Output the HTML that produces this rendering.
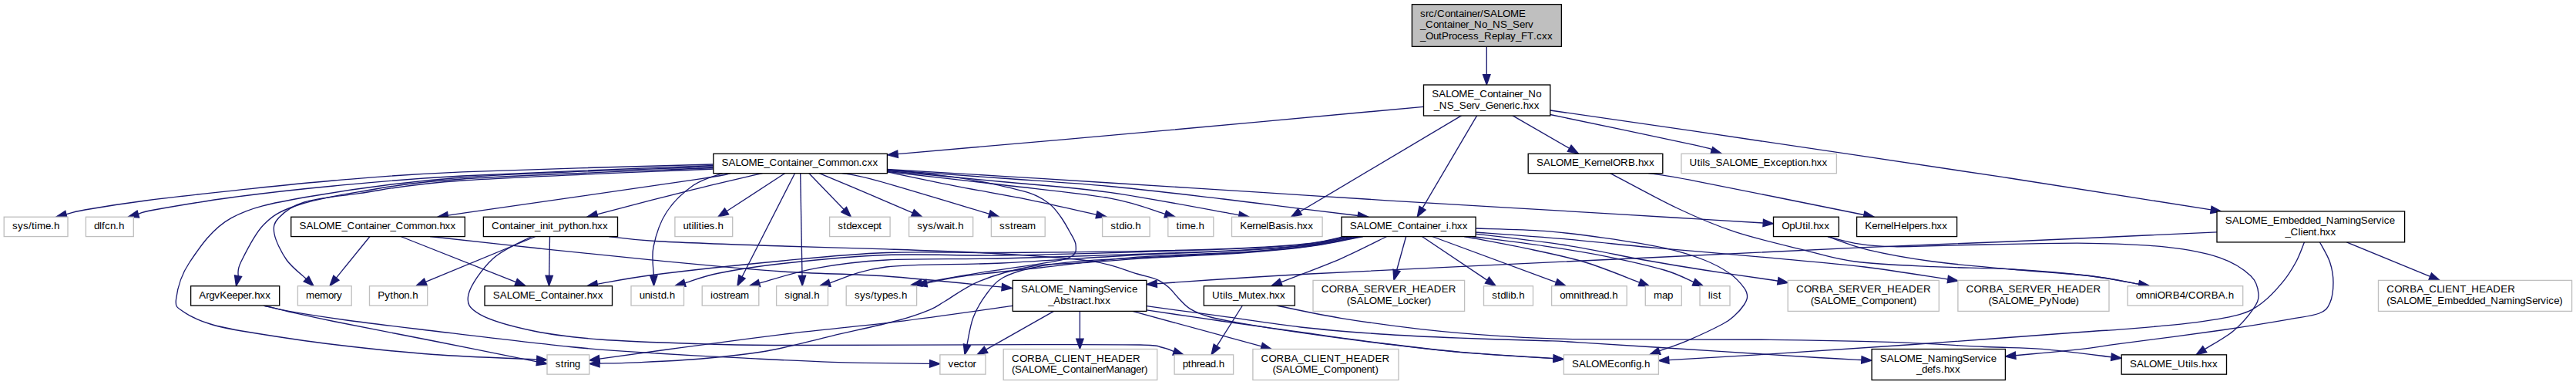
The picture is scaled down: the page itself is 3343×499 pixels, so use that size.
<!DOCTYPE html><html><head><meta charset="utf-8"><title>Include dependency graph</title>
<style>html,body{margin:0;padding:0;background:#fff}svg{display:block}text{font-family:"Liberation Sans",sans-serif;font-size:13.33px;fill:#000}
.e path{fill:none;stroke:#191970;stroke-width:1.33}.e polygon{fill:#191970;stroke:#191970;stroke-width:1.33}</style></head><body>
<svg width="3343" height="499" viewBox="0 0 3343 499">
<rect width="3343" height="499" fill="white"/>
<g class="e">
<path d="M1929.3,60.3 L1929.3,96.7"/><polygon points="1924.6,96.7 1929.3,110.0 1934.0,96.7"/>
<path d="M1847.5,138.3 C1789.6,143.6 1613.7,160.0 1500.0,170.2 C1386.3,180.4 1220.9,194.7 1165.0,199.6"/><polygon points="1164.6,195.0 1151.8,200.8 1165.5,204.3"/>
<path d="M1897.0,149.6 L1687.0,274.3"/><polygon points="1684.7,270.3 1675.6,281.1 1689.4,278.3"/>
<path d="M1916.8,149.6 L1846.1,269.6"/><polygon points="1842.0,267.3 1839.3,281.1 1850.1,272.0"/>
<path d="M1962.6,149.6 L2036.8,192.3"/><polygon points="2034.4,196.3 2048.3,198.9 2039.1,188.2"/>
<path d="M2011.8,148.5 C2043.2,155.1 2165.1,180.5 2200.0,188.2 C2234.9,195.9 2217.8,193.8 2221.3,194.9"/><polygon points="2219.9,199.4 2234.0,198.9 2222.7,190.5"/>
<path d="M2011.8,143.0 C2043.2,147.5 2102.0,155.8 2200.0,170.2 C2298.0,184.6 2488.4,212.8 2600.0,229.7 C2711.6,246.6 2824.5,264.8 2869.4,271.8"/><polygon points="2868.6,276.5 2882.5,273.9 2870.1,267.2"/>
<path d="M2138.3,224.3 C2148.6,226.0 2153.2,225.6 2200.0,234.6 C2246.8,243.6 2382.5,271.2 2419.0,278.5"/><polygon points="2418.0,283.1 2432.0,281.1 2419.9,273.9"/>
<path d="M2089.2,224.3 C2103.8,231.9 2150.0,257.3 2177.0,270.0 C2204.0,282.7 2224.1,291.4 2251.3,300.4 C2278.5,309.4 2314.0,317.4 2340.0,323.8 C2366.0,330.2 2379.4,335.4 2407.5,339.0 C2435.6,342.6 2475.1,344.0 2508.8,345.7 C2542.6,347.4 2576.2,347.0 2610.0,349.0 C2643.8,351.0 2683.8,354.3 2711.4,357.5 C2739.0,360.7 2765.1,366.5 2775.9,368.3"/><polygon points="2775.1,372.9 2789.0,370.5 2776.7,363.7"/>
<path d="M925.8,213.0 C871.5,214.6 682.1,219.3 600.0,222.8 C517.9,226.3 483.0,229.9 433.0,234.0 C383.0,238.1 340.7,243.0 300.0,247.3 C259.3,251.6 220.7,255.9 189.0,260.0 C157.3,264.1 127.2,269.0 110.0,272.0 C92.8,275.0 89.9,276.9 85.9,277.9"/><polygon points="84.8,273.3 73.0,281.0 87.0,282.4"/>
<path d="M925.8,214.5 C871.5,216.8 682.1,223.6 600.0,228.0 C517.9,232.4 483.0,236.3 433.0,241.0 C383.0,245.7 338.8,250.8 300.0,256.0 C261.2,261.2 220.1,268.4 200.0,272.0 C179.9,275.6 182.8,276.6 179.3,277.5"/><polygon points="178.1,273.0 166.5,281.0 180.6,282.1"/>
<path d="M925.8,216.0 C871.5,218.3 687.6,223.5 600.0,230.0 C512.4,236.5 450.0,246.2 400.0,255.0 C350.0,263.8 325.7,268.4 300.0,282.6 C274.3,296.8 257.9,322.4 246.0,340.0 C234.1,357.6 229.8,377.3 228.5,388.0 C227.2,398.7 230.6,398.7 238.0,404.0 C245.4,409.3 259.3,415.7 273.0,420.0 C286.7,424.3 293.3,425.6 320.0,430.0 C346.7,434.4 392.5,441.6 433.0,446.5 C473.5,451.4 519.0,456.3 563.0,459.5 C607.0,462.7 674.4,464.8 696.7,465.9"/><polygon points="696.5,470.5 710.0,466.5 696.9,461.2"/>
<path d="M925.8,217.5 C871.5,219.9 676.6,226.8 600.0,232.0 C523.4,237.2 502.2,242.8 466.0,248.6 C429.8,254.4 403.8,259.8 383.0,267.0 C362.2,274.2 353.2,279.8 341.5,292.0 C329.8,304.2 317.9,329.1 312.5,340.0 C307.1,350.9 309.6,354.7 309.1,357.6"/><polygon points="304.5,356.8 306.5,370.7 313.6,358.5"/>
<path d="M925.8,219.0 C871.5,221.5 676.6,228.7 600.0,234.0 C523.4,239.3 500.2,245.9 466.0,250.6 C431.8,255.3 412.3,256.8 395.0,262.0 C377.7,267.2 368.5,275.2 362.0,282.0 C355.5,288.8 354.3,293.8 356.0,303.0 C357.7,312.2 365.1,327.3 372.0,337.0 C378.9,346.7 393.2,357.4 397.4,361.5"/><polygon points="394.2,364.8 407.0,370.7 400.7,358.1"/>
<path d="M948.6,224.3 C940.5,225.8 958.1,224.5 900.0,233.2 C841.9,241.9 653.1,268.7 600.0,276.4 C546.9,284.1 584.3,278.7 581.2,279.2"/><polygon points="580.5,274.5 568.0,281.1 581.8,283.8"/>
<path d="M990.0,224.3 C975.0,227.9 935.9,236.7 900.0,245.6 C864.1,254.5 795.7,272.4 774.9,277.8"/><polygon points="773.7,273.3 762.0,281.1 776.0,282.3"/>
<path d="M938.0,224.3 C931.7,226.9 912.2,231.6 900.0,240.0 C887.8,248.4 873.7,261.7 865.0,275.0 C856.3,288.3 850.8,306.3 848.0,320.0 C845.2,333.7 848.3,351.0 848.4,357.2"/><polygon points="843.7,357.2 848.5,370.5 853.0,357.2"/>
<path d="M1019.2,224.3 L943.0,273.8"/><polygon points="940.5,269.9 931.9,281.1 945.6,277.8"/>
<path d="M1031.7,224.3 L963.0,358.7"/><polygon points="958.8,356.5 956.9,370.5 967.1,360.8"/>
<path d="M1038.7,224.3 L1041.0,357.2"/><polygon points="1036.3,357.3 1041.2,370.5 1045.6,357.1"/>
<path d="M1049.5,224.3 L1095.2,271.5"/><polygon points="1091.8,274.8 1104.4,281.1 1098.5,268.3"/>
<path d="M1062.8,224.3 C1075.7,229.7 1119.7,248.2 1140.0,256.8 C1160.3,265.4 1177.1,272.7 1184.5,275.9"/><polygon points="1182.6,280.2 1196.7,281.1 1186.3,271.6"/>
<path d="M1092.0,224.3 C1100.0,226.0 1108.0,225.8 1140.0,234.6 C1172.0,243.4 1260.0,270.2 1283.9,277.3"/><polygon points="1282.6,281.8 1296.7,281.1 1285.3,272.8"/>
<path d="M1151.4,219.8 C1166.0,221.5 1215.9,226.6 1238.7,229.7 C1261.5,232.8 1271.5,234.8 1288.0,238.3 C1304.5,241.8 1325.1,246.3 1337.4,250.6 C1349.7,254.9 1355.4,259.1 1362.0,264.2 C1368.6,269.3 1372.6,275.5 1376.9,281.5 C1381.2,287.5 1384.8,294.1 1388.0,300.0 C1391.2,305.9 1395.5,311.7 1396.0,317.0 C1396.5,322.3 1397.5,328.1 1391.0,332.0 C1384.5,335.9 1377.0,337.1 1357.0,340.7 C1337.0,344.3 1297.8,349.3 1271.0,353.6 C1244.2,357.9 1208.6,364.5 1196.1,366.7"/><polygon points="1195.3,362.1 1183.0,369.0 1196.9,371.3"/>
<path d="M1151.4,222.8 C1166.0,225.8 1207.7,234.7 1238.7,240.8 C1269.7,246.9 1306.7,253.1 1337.4,259.3 C1368.1,265.5 1408.7,275.1 1423.0,278.2"/><polygon points="1422.0,282.8 1436.0,281.1 1424.0,273.7"/>
<path d="M1151.4,222.5 C1176.2,225.3 1251.9,233.8 1300.0,239.5 C1348.1,245.2 1404.6,250.5 1440.0,256.8 C1475.4,263.1 1500.2,274.0 1512.2,277.4"/><polygon points="1510.9,281.9 1525.0,281.1 1513.5,273.0"/>
<path d="M1151.4,221.5 C1176.2,223.8 1251.9,230.8 1300.0,235.5 C1348.1,240.2 1388.7,242.2 1440.0,249.4 C1491.3,256.6 1579.9,273.9 1607.9,278.8"/><polygon points="1607.1,283.4 1621.0,281.1 1608.7,274.2"/>
<path d="M1151.4,220.5 C1176.2,222.2 1251.9,227.5 1300.0,231.0 C1348.1,234.5 1392.0,237.0 1440.0,241.5 C1488.0,246.0 1546.9,253.2 1588.0,258.0 C1629.1,262.8 1657.7,266.8 1686.7,270.4 C1715.7,274.0 1749.7,278.0 1762.3,279.5"/><polygon points="1761.7,284.1 1775.5,281.1 1762.9,274.9"/>
<path d="M1151.4,219.5 C1176.2,221.0 1251.9,225.4 1300.0,228.3 C1348.1,231.2 1383.8,233.5 1440.0,237.0 C1496.2,240.5 1577.4,245.6 1637.4,249.4 C1697.4,253.2 1722.9,255.1 1800.0,259.8 C1877.1,264.5 2033.3,273.6 2100.0,277.6 C2166.7,281.6 2168.6,281.8 2200.0,283.7 C2231.4,285.6 2273.5,288.1 2288.2,289.0"/><polygon points="2287.9,293.7 2301.5,289.8 2288.5,284.3"/>
<path d="M480.0,306.5 L436.4,360.2"/><polygon points="432.8,357.2 428.0,370.5 440.0,363.1"/>
<path d="M520.0,306.5 L669.6,365.6"/><polygon points="667.9,370.0 682.0,370.5 671.3,361.3"/>
<path d="M558.0,306.5 C581.7,309.1 651.3,316.9 700.0,322.0 C748.7,327.1 797.3,332.4 850.0,337.4 C902.7,342.4 966.0,348.6 1016.0,352.0 C1066.0,355.4 1102.6,354.6 1150.0,358.0 C1197.4,361.4 1275.2,369.9 1300.3,372.2"/><polygon points="1299.8,376.9 1313.5,373.5 1300.7,367.6"/>
<path d="M695.0,306.5 L552.3,365.4"/><polygon points="550.5,361.1 540.0,370.5 554.1,369.7"/>
<path d="M713.5,306.5 L712.7,357.2"/><polygon points="708.0,357.1 712.5,370.5 717.4,357.3"/>
<path d="M690.0,306.5 C681.7,311.2 653.7,322.5 640.0,335.0 C626.3,347.5 610.8,369.5 608.0,381.6 C605.2,393.7 608.9,399.7 623.0,407.6 C637.1,415.5 666.6,423.6 692.6,429.0 C718.6,434.4 742.9,437.2 779.0,440.0 C815.1,442.8 868.3,444.4 909.0,445.7 C949.7,446.9 951.2,447.4 1023.0,447.5 C1094.8,447.6 1263.8,446.7 1340.0,446.6 C1416.2,446.5 1452.2,446.4 1480.0,447.0 C1507.8,447.6 1499.8,448.6 1507.0,450.0 C1514.2,451.4 1520.7,454.6 1523.4,455.5"/><polygon points="1521.9,460.0 1536.0,459.8 1524.9,451.1"/>
<path d="M790.0,306.5 C800.0,307.5 815.0,310.5 850.0,312.5 C885.0,314.5 950.0,316.8 1000.0,318.5 C1050.0,320.2 1100.0,321.1 1150.0,322.9 C1200.0,324.6 1255.5,326.4 1300.0,329.0 C1344.5,331.6 1387.7,334.3 1417.0,338.6 C1446.3,342.9 1461.7,351.0 1476.0,355.0 C1490.3,359.0 1495.6,359.7 1502.6,362.8 C1509.6,365.9 1513.6,369.8 1518.0,373.7 C1522.4,377.6 1524.5,381.5 1529.0,386.0 C1533.5,390.5 1538.0,396.4 1545.0,400.6 C1552.0,404.8 1560.2,408.0 1571.0,411.0 C1581.8,414.0 1590.5,415.4 1610.0,418.8 C1629.5,422.2 1657.5,426.8 1687.8,431.2 C1718.1,435.6 1757.1,440.8 1791.7,445.0 C1826.3,449.2 1858.2,453.3 1895.6,456.6 C1933.0,459.9 1996.0,463.3 2016.1,464.6"/><polygon points="2015.8,469.3 2029.4,465.5 2016.4,460.0"/>
<path d="M342.0,396.0 C347.5,397.3 359.8,400.6 375.0,404.0 C390.2,407.4 401.7,410.2 433.0,416.5 C464.3,422.8 519.0,433.3 563.0,442.0 C607.0,450.7 674.6,464.4 697.0,468.9"/><polygon points="696.0,473.5 710.0,471.5 697.9,464.3"/>
<path d="M342.0,396.0 C347.5,397.2 357.0,400.2 375.0,403.4 C393.0,406.6 418.7,410.7 450.0,415.0 C481.3,419.3 514.7,423.2 563.0,429.0 C611.3,434.8 691.7,444.7 740.0,449.5 C788.3,454.3 815.2,455.6 853.0,458.0 C890.8,460.4 928.7,462.3 966.5,464.2 C1004.3,466.1 1039.7,468.1 1079.7,469.3 C1119.7,470.5 1185.5,471.0 1206.6,471.3"/><polygon points="1206.5,476.0 1219.9,471.5 1206.7,466.6"/>
<path d="M1745.0,306.5 C1737.5,308.0 1721.5,312.8 1700.0,315.3 C1678.5,317.8 1653.3,319.6 1616.0,321.3 C1578.7,323.0 1528.7,324.6 1476.0,325.6 C1423.3,326.6 1354.3,327.2 1300.0,327.5 C1245.7,327.8 1197.3,325.8 1150.0,327.5 C1102.7,329.2 1066.0,333.2 1016.0,338.0 C966.0,342.8 890.1,350.9 850.0,356.0 C809.9,361.1 787.6,366.3 775.1,368.3"/><polygon points="774.4,363.7 762.0,370.5 775.9,372.9"/>
<path d="M1748.0,306.5 C1740.0,308.1 1722.0,313.2 1700.0,315.8 C1678.0,318.4 1653.3,320.1 1616.0,321.9 C1578.7,323.7 1528.7,325.1 1476.0,326.6 C1423.3,328.1 1354.3,330.4 1300.0,331.0 C1245.7,331.6 1197.3,328.8 1150.0,330.5 C1102.7,332.2 1052.2,337.6 1016.0,341.5 C979.8,345.4 954.2,349.8 933.0,354.0 C911.8,358.2 896.1,364.7 888.8,366.8"/><polygon points="887.5,362.3 876.0,370.5 890.1,371.3"/>
<path d="M1754.0,306.5 C1745.0,308.2 1723.0,313.9 1700.0,316.8 C1677.0,319.7 1653.3,321.7 1616.0,323.8 C1578.7,325.9 1528.7,327.4 1476.0,329.3 C1423.3,331.2 1354.3,333.7 1300.0,335.0 C1245.7,336.3 1190.4,334.9 1150.0,337.0 C1109.6,339.1 1085.2,342.8 1057.8,347.8 C1030.4,352.8 997.5,363.9 985.5,367.1"/><polygon points="984.2,362.6 972.6,370.5 986.7,371.6"/>
<path d="M1757.0,306.5 C1747.5,308.3 1723.5,314.3 1700.0,317.3 C1676.5,320.3 1653.3,322.2 1616.0,324.4 C1578.7,326.6 1528.7,327.7 1476.0,330.5 C1423.3,333.3 1354.3,338.4 1300.0,341.0 C1245.7,343.6 1187.2,341.7 1150.0,346.0 C1112.8,350.3 1089.0,363.4 1076.8,366.9"/><polygon points="1075.5,362.4 1064.0,370.5 1078.1,371.3"/>
<path d="M1763.0,306.5 C1752.5,308.5 1724.5,315.0 1700.0,318.3 C1675.5,321.6 1653.3,323.8 1616.0,326.3 C1578.7,328.8 1520.3,329.8 1476.0,333.2 C1431.7,336.6 1387.7,342.9 1350.0,347.0 C1312.3,351.1 1274.6,354.7 1250.0,358.0 C1225.4,361.3 1210.6,365.5 1202.7,367.0"/><polygon points="1201.8,362.4 1189.6,369.5 1203.5,371.6"/>
<path d="M1769.0,306.5 C1757.5,308.6 1725.5,315.8 1700.0,319.3 C1674.5,322.8 1653.3,324.8 1616.0,327.5 C1578.7,330.2 1512.0,333.1 1476.0,335.3 C1440.0,337.6 1422.7,339.4 1400.0,341.0 C1377.3,342.6 1361.4,341.1 1340.0,345.0 C1318.6,348.9 1290.2,356.8 1271.4,364.3 C1252.6,371.8 1237.7,383.8 1227.0,390.0 C1216.3,396.2 1217.4,397.1 1207.0,401.3 C1196.6,405.6 1185.9,409.8 1164.7,415.5 C1143.5,421.2 1108.0,428.7 1079.7,435.3 C1051.4,441.9 1023.1,450.1 994.8,455.0 C966.5,459.9 938.3,462.5 910.0,465.0 C881.7,467.5 847.0,468.8 825.0,469.8 C803.0,470.8 785.8,470.9 778.0,471.1"/><polygon points="777.9,466.5 764.7,471.5 778.1,475.8"/>
<path d="M1766.0,306.5 C1755.0,308.6 1725.0,315.4 1700.0,318.8 C1675.0,322.2 1653.3,324.3 1616.0,326.9 C1578.7,329.5 1512.0,332.2 1476.0,334.2 C1440.0,336.1 1422.7,336.5 1400.0,338.6 C1377.3,340.7 1356.4,343.4 1340.0,347.0 C1323.6,350.6 1311.4,354.3 1301.4,360.0 C1291.4,365.7 1286.4,372.8 1280.0,381.4 C1273.6,390.0 1267.2,400.5 1263.0,411.4 C1258.8,422.3 1256.3,440.9 1254.9,446.8"/><polygon points="1250.4,445.8 1252.0,459.8 1259.5,447.9"/>
<path d="M1799.7,306.5 C1789.8,311.3 1762.9,325.4 1740.0,335.3 C1717.1,345.2 1675.3,360.6 1662.4,365.7"/><polygon points="1660.7,361.3 1650.0,370.5 1664.1,370.0"/>
<path d="M1824.7,306.5 L1812.5,350.5"/><polygon points="1808.0,349.2 1808.9,363.3 1817.0,351.7"/>
<path d="M1845.4,306.5 L1929.9,363.1"/><polygon points="1927.4,367.0 1941.0,370.5 1932.5,359.2"/>
<path d="M1858.6,306.5 L2019.5,365.9"/><polygon points="2017.9,370.3 2032.0,370.5 2021.1,361.5"/>
<path d="M1900.0,306.5 C1913.0,309.0 1951.9,315.9 1977.9,321.4 C2003.9,326.9 2030.8,332.1 2055.8,339.5 C2080.8,346.9 2115.8,361.7 2127.8,366.1"/><polygon points="2126.2,370.5 2140.3,370.7 2129.4,361.7"/>
<path d="M1910.0,306.5 C1925.7,308.6 1975.3,314.6 2003.9,318.8 C2032.5,323.0 2055.8,326.6 2081.8,331.8 C2107.8,337.0 2140.3,344.4 2159.7,350.0 C2179.1,355.6 2191.7,363.1 2198.1,365.7"/><polygon points="2196.3,370.0 2210.4,370.7 2199.9,361.3"/>
<path d="M1915.1,303.2 C1934.2,305.6 1993.5,311.9 2029.9,317.5 C2066.4,323.1 2103.5,331.6 2133.8,337.0 C2164.1,342.4 2184.0,345.7 2211.7,350.0 C2239.4,354.3 2284.1,360.6 2300.0,363.0 C2315.9,365.4 2306.1,364.0 2307.4,364.2"/><polygon points="2306.6,368.8 2320.5,366.4 2308.1,359.6"/>
<path d="M1915.1,301.0 C1934.2,302.4 1993.5,306.5 2029.9,309.7 C2066.4,312.9 2103.5,317.2 2133.8,320.0 C2164.1,322.8 2184.0,324.2 2211.7,326.6 C2239.4,329.0 2265.3,331.2 2300.0,334.4 C2334.7,337.6 2382.0,341.4 2420.0,346.0 C2458.0,350.6 2509.9,359.4 2527.8,362.0"/><polygon points="2527.2,366.7 2541.0,364.0 2528.5,357.4"/>
<path d="M1915.1,296.0 C1929.9,296.6 1976.1,297.2 2003.9,299.3 C2031.7,301.4 2055.8,304.7 2081.8,308.4 C2107.8,312.1 2138.0,316.6 2159.7,321.4 C2181.3,326.2 2197.4,331.4 2211.7,337.0 C2226.0,342.6 2236.8,348.9 2245.5,355.0 C2254.2,361.1 2259.9,368.3 2263.6,373.3 C2267.3,378.3 2267.6,381.3 2267.5,385.0 C2267.4,388.7 2265.6,391.7 2263.0,395.5 C2260.4,399.3 2256.6,403.9 2252.0,408.0 C2247.4,412.1 2246.0,414.4 2235.5,420.0 C2225.0,425.6 2202.7,436.0 2189.0,441.8 C2175.3,447.6 2159.4,452.7 2153.5,454.9"/><polygon points="2151.9,450.5 2141.0,459.5 2155.1,459.3"/>
<path d="M2372.0,306.5 C2380.7,309.4 2401.6,318.4 2424.4,323.8 C2447.2,329.2 2477.9,334.8 2508.8,339.0 C2539.7,343.2 2576.2,345.9 2610.0,349.0 C2643.8,352.1 2683.8,354.3 2711.4,357.5 C2739.0,360.7 2765.1,366.5 2775.9,368.3"/><polygon points="2775.1,372.9 2789.0,370.5 2776.7,363.7"/>
<path d="M2372.0,306.5 C2377.9,308.0 2393.2,313.1 2407.5,315.3 C2421.8,317.5 2429.8,319.4 2458.0,319.7 C2486.2,320.0 2534.2,317.7 2576.4,317.0 C2618.6,316.3 2672.0,314.7 2711.4,315.3 C2750.8,315.9 2784.5,317.3 2812.7,320.4 C2840.8,323.5 2862.3,327.7 2880.3,333.9 C2898.3,340.1 2912.4,349.6 2920.8,357.5 C2929.2,365.4 2930.5,374.0 2931.0,381.2 C2931.5,388.4 2929.3,392.8 2923.8,400.8 C2918.3,408.8 2908.4,420.6 2898.0,429.2 C2887.6,437.8 2867.3,448.7 2861.2,452.7"/><polygon points="2858.7,448.7 2850.0,459.8 2863.7,456.6"/>
<path d="M2877.0,300.8 C2832.5,302.8 2686.2,309.7 2610.0,313.0 C2533.8,316.3 2496.7,317.2 2420.0,320.6 C2343.3,324.0 2270.0,327.8 2150.0,333.5 C2030.0,339.2 1808.1,349.3 1700.0,355.0 C1591.9,360.7 1534.3,365.6 1501.2,367.7"/><polygon points="1500.9,363.1 1487.9,368.6 1501.5,372.4"/>
<path d="M2990.5,313.8 C2988.7,318.1 2984.3,331.0 2979.5,339.7 C2974.7,348.4 2969.2,357.4 2961.9,366.2 C2954.6,375.0 2945.0,385.7 2935.4,392.7 C2925.8,399.7 2920.7,403.7 2904.5,408.1 C2888.3,412.5 2864.1,416.0 2838.3,419.2 C2812.6,422.4 2773.1,425.2 2750.0,427.1 C2726.9,429.0 2744.6,427.3 2700.0,430.5 C2655.4,433.7 2549.9,441.8 2482.7,446.5 C2415.5,451.2 2349.8,455.4 2297.0,458.8 C2244.2,462.2 2187.6,465.4 2165.7,466.7"/><polygon points="2165.4,462.0 2152.4,467.5 2166.0,471.4"/>
<path d="M3010.4,313.8 C3012.6,318.1 3020.7,331.0 3023.6,339.7 C3026.5,348.4 3028.0,357.4 3028.0,366.2 C3028.0,375.0 3026.6,386.1 3023.6,392.7 C3020.6,399.3 3018.8,402.5 3010.0,406.0 C3001.2,409.5 2992.0,410.2 2970.7,413.9 C2949.4,417.6 2919.2,422.7 2882.4,428.0 C2845.6,433.3 2780.4,441.6 2750.0,445.7 C2719.6,449.8 2722.4,450.1 2700.0,452.6 C2677.6,455.1 2629.7,459.4 2615.6,460.7"/><polygon points="2615.2,456.1 2602.4,462.0 2616.1,465.4"/>
<path d="M3045.3,313.8 L3153.7,358.3"/><polygon points="3151.9,362.6 3166.0,363.3 3155.5,353.9"/>
<path d="M1314.3,396.4 C1289.4,399.8 1213.2,410.9 1164.7,416.9 C1116.2,422.9 1070.2,426.8 1023.0,432.5 C975.8,438.2 922.5,445.5 881.6,450.9 C840.7,456.3 795.2,462.8 777.9,465.2"/><polygon points="777.2,460.6 764.7,467.0 778.5,469.8"/>
<path d="M1368.0,403.2 L1279.6,453.2"/><polygon points="1277.3,449.2 1268.0,459.8 1281.9,457.3"/>
<path d="M1401.4,403.2 L1401.4,439.1"/><polygon points="1396.7,439.1 1401.4,452.4 1406.1,439.1"/>
<path d="M1469.0,403.2 L1637.2,448.9"/><polygon points="1635.9,453.4 1650.0,452.4 1638.4,444.4"/>
<path d="M1487.9,401.9 C1503.9,404.2 1550.7,411.2 1584.0,416.0 C1617.3,420.8 1653.2,425.7 1687.8,430.5 C1722.4,435.3 1757.1,440.4 1791.7,444.7 C1826.3,449.0 1858.2,453.1 1895.6,456.4 C1933.0,459.7 1996.0,463.2 2016.1,464.6"/><polygon points="2015.8,469.3 2029.4,465.5 2016.4,459.9"/>
<path d="M1487.9,396.7 C1503.9,398.9 1550.7,405.1 1584.0,409.7 C1617.3,414.2 1653.2,420.1 1687.8,424.0 C1722.4,427.9 1757.1,430.6 1791.7,433.0 C1826.3,435.4 1861.0,436.8 1895.6,438.2 C1930.2,439.6 1973.8,440.6 1999.5,441.5 C2025.2,442.4 2010.7,441.4 2050.0,443.8 C2089.3,446.2 2184.0,452.4 2235.5,455.7 C2287.0,459.0 2328.9,461.7 2359.0,463.5 C2389.1,465.3 2406.3,466.0 2415.8,466.5"/><polygon points="2415.6,471.2 2429.1,467.2 2416.1,461.8"/>
<path d="M1612.4,396.0 L1579.1,448.6"/><polygon points="1575.2,446.1 1572.0,459.8 1583.1,451.1"/>
<path d="M1656.6,396.0 C1670.4,398.7 1708.5,407.2 1739.7,412.3 C1770.9,417.4 1809.0,422.7 1843.6,426.6 C1878.2,430.5 1913.1,433.4 1947.5,435.6 C1981.9,437.8 1991.8,438.9 2050.0,439.7 C2108.2,440.5 2230.0,439.7 2297.0,440.3 C2364.0,440.9 2405.4,441.9 2451.8,443.4 C2498.2,444.9 2542.4,448.0 2575.4,449.5 C2608.4,451.0 2622.6,450.2 2650.0,452.4 C2677.4,454.6 2725.0,461.0 2740.0,462.8"/><polygon points="2739.5,467.4 2753.2,464.3 2740.5,458.1"/>
</g><g>
<rect x="1832.40" y="5.67" width="194.00" height="54.67" fill="#bfbfbf" stroke="black" stroke-width="1.33"/><text x="1843.1 1850.1 1854.1 1861.1 1865.1 1875.1 1882.1 1889.1 1893.1 1900.1 1903.1 1910.1 1917.1 1921.1 1925.1 1934.1 1943.1 1950.1 1960.1 1971.1" y="21.67">src/Container/SALOME</text><text x="1843.1 1850.1 1860.1 1867.1 1874.1 1878.1 1885.1 1888.1 1895.1 1902.1 1906.1 1913.1 1923.1 1930.1 1937.1 1947.1 1956.1 1963.1 1972.1 1979.1 1983.1" y="36.33">_Container_No_NS_Serv</text><text x="1843.1 1850.1 1860.1 1867.1 1871.1 1880.1 1884.1 1891.1 1898.1 1905.1 1912.1 1919.1 1926.1 1936.1 1943.1 1950.1 1953.1 1960.1 1967.1 1974.1 1982.1 1990.1 1994.1 2001.1 2008.1" y="51.00">_OutProcess_Replay_FT.cxx</text>
<rect x="1847.50" y="110.00" width="164.30" height="40.00" fill="white" stroke="black" stroke-width="1.33"/><text x="1858.2 1867.2 1876.2 1883.2 1893.2 1904.2 1913.2 1920.2 1930.2 1937.2 1944.2 1948.2 1955.2 1958.2 1965.2 1972.2 1976.2 1983.2 1993.2" y="126.00">SALOME_Container_No</text><text x="1860.7 1867.7 1877.7 1886.7 1893.7 1902.7 1909.7 1913.7 1920.7 1927.7 1937.7 1944.7 1951.7 1958.7 1962.7 1965.7 1972.7 1976.7 1983.7 1990.7" y="140.67">_NS_Serv_Generic.hxx</text>
<rect x="925.80" y="199.33" width="225.60" height="25.33" fill="white" stroke="black" stroke-width="1.33"/><text x="936.5 945.5 954.5 961.5 971.5 982.5 991.5 998.5 1008.5 1015.5 1022.5 1026.5 1033.5 1036.5 1043.5 1050.5 1054.5 1061.5 1071.5 1078.5 1089.5 1100.5 1107.5 1114.5 1118.5 1125.5 1132.5" y="215.33">SALOME_Container_Common.cxx</text>
<rect x="1983.20" y="199.33" width="174.60" height="25.33" fill="white" stroke="black" stroke-width="1.33"/><text x="1993.9 2002.9 2011.9 2018.9 2028.9 2039.9 2048.9 2055.9 2064.9 2071.9 2075.9 2082.9 2089.9 2092.9 2102.9 2112.9 2121.9 2125.9 2132.9 2139.9" y="215.33">SALOME_KernelORB.hxx</text>
<rect x="2181.90" y="199.33" width="201.50" height="25.33" fill="white" stroke="#bfbfbf" stroke-width="1.33"/><text x="2192.6 2202.6 2206.6 2209.6 2212.6 2219.6 2226.6 2235.6 2244.6 2251.6 2261.6 2272.6 2281.6 2288.6 2297.6 2304.6 2311.6 2318.6 2325.6 2329.6 2332.6 2339.6 2346.6 2350.6 2357.6 2364.6" y="215.33">Utils_SALOME_Exception.hxx</text>
<rect x="5.20" y="281.23" width="82.80" height="25.33" fill="white" stroke="#bfbfbf" stroke-width="1.33"/><text x="15.9 22.9 29.9 36.9 40.9 44.9 47.9 58.9 65.9 69.9" y="297.23">sys/time.h</text>
<rect x="111.40" y="281.23" width="61.90" height="25.33" fill="white" stroke="#bfbfbf" stroke-width="1.33"/><text x="122.1 129.1 132.1 136.1 143.1 150.1 154.1" y="297.23">dlfcn.h</text>
<rect x="377.70" y="281.23" width="225.60" height="25.33" fill="white" stroke="black" stroke-width="1.33"/><text x="388.4 397.4 406.4 413.4 423.4 434.4 443.4 450.4 460.4 467.4 474.4 478.4 485.4 488.4 495.4 502.4 506.4 513.4 523.4 530.4 541.4 552.4 559.4 566.4 570.4 577.4 584.4" y="297.23">SALOME_Container_Common.hxx</text>
<rect x="627.40" y="281.23" width="174.10" height="25.33" fill="white" stroke="black" stroke-width="1.33"/><text x="638.1 648.1 655.1 662.1 666.1 673.1 676.1 683.1 690.1 694.1 701.1 704.1 711.1 714.1 718.1 725.1 732.1 739.1 743.1 750.1 757.1 764.1 768.1 775.1 782.1" y="297.23">Container_init_python.hxx</text>
<rect x="875.90" y="281.23" width="74.80" height="25.33" fill="white" stroke="#bfbfbf" stroke-width="1.33"/><text x="886.6 893.6 897.6 900.6 903.6 906.6 910.6 913.6 920.6 927.6 931.6" y="297.23">utilities.h</text>
<rect x="1076.60" y="281.23" width="78.50" height="25.33" fill="white" stroke="#bfbfbf" stroke-width="1.33"/><text x="1087.3 1094.3 1098.3 1105.3 1112.3 1119.3 1126.3 1133.3 1140.3" y="297.23">stdexcept</text>
<rect x="1179.60" y="281.23" width="83.10" height="25.33" fill="white" stroke="#bfbfbf" stroke-width="1.33"/><text x="1190.3 1197.3 1204.3 1211.3 1215.3 1225.3 1232.3 1235.3 1239.3 1243.3" y="297.23">sys/wait.h</text>
<rect x="1286.40" y="281.23" width="69.80" height="25.33" fill="white" stroke="#bfbfbf" stroke-width="1.33"/><text x="1297.1 1304.1 1311.1 1315.1 1319.1 1326.1 1333.1" y="297.23">sstream</text>
<rect x="1430.60" y="281.23" width="61.50" height="25.33" fill="white" stroke="#bfbfbf" stroke-width="1.33"/><text x="1441.3 1448.3 1452.3 1459.3 1462.3 1469.3 1473.3" y="297.23">stdio.h</text>
<rect x="1515.80" y="281.23" width="59.00" height="25.33" fill="white" stroke="#bfbfbf" stroke-width="1.33"/><text x="1526.5 1530.5 1533.5 1544.5 1551.5 1555.5" y="297.23">time.h</text>
<rect x="1598.50" y="281.23" width="117.60" height="25.33" fill="white" stroke="#bfbfbf" stroke-width="1.33"/><text x="1609.2 1618.2 1625.2 1629.2 1636.2 1643.2 1646.2 1655.2 1662.2 1669.2 1672.2 1679.2 1683.2 1690.2 1697.2" y="297.23">KernelBasis.hxx</text>
<rect x="1741.00" y="281.23" width="174.10" height="25.33" fill="white" stroke="black" stroke-width="1.33"/><text x="1751.7 1760.7 1769.7 1776.7 1786.7 1797.7 1806.7 1813.7 1823.7 1830.7 1837.7 1841.7 1848.7 1851.7 1858.7 1865.7 1869.7 1876.7 1879.7 1883.7 1890.7 1897.7" y="297.23">SALOME_Container_i.hxx</text>
<rect x="2301.50" y="281.23" width="84.80" height="25.33" fill="white" stroke="black" stroke-width="1.33"/><text x="2312.2 2322.2 2329.2 2339.2 2343.2 2346.2 2349.2 2353.2 2360.2 2367.2" y="297.23">OpUtil.hxx</text>
<rect x="2409.60" y="281.23" width="130.00" height="25.33" fill="white" stroke="black" stroke-width="1.33"/><text x="2420.3 2429.3 2436.3 2440.3 2447.3 2454.3 2457.3 2467.3 2474.3 2477.3 2484.3 2491.3 2495.3 2502.3 2506.3 2513.3 2520.3" y="297.23">KernelHelpers.hxx</text>
<rect x="2877.00" y="273.90" width="243.60" height="40.00" fill="white" stroke="black" stroke-width="1.33"/><text x="2887.7 2896.7 2905.7 2912.7 2922.7 2933.7 2942.7 2949.7 2958.7 2969.7 2976.7 2983.7 2990.7 2997.7 3004.7 3011.7 3018.7 3028.7 3035.7 3046.7 3049.7 3056.7 3063.7 3072.7 3079.7 3083.7 3090.7 3093.7 3100.7" y="289.90">SALOME_Embedded_NamingService</text><text x="2965.5 2972.5 2982.5 2985.5 2988.5 2995.5 3002.5 3006.5 3010.5 3017.5 3024.5" y="304.57">_Client.hxx</text>
<rect x="247.60" y="370.73" width="115.10" height="25.33" fill="white" stroke="black" stroke-width="1.33"/><text x="258.3 267.3 271.3 278.3 285.3 294.3 301.3 308.3 315.3 322.3 326.3 330.3 337.3 344.3" y="386.73">ArgvKeeper.hxx</text>
<rect x="386.40" y="370.73" width="69.80" height="25.33" fill="white" stroke="#bfbfbf" stroke-width="1.33"/><text x="397.1 408.1 415.1 426.1 433.1 437.1" y="386.73">memory</text>
<rect x="479.50" y="370.73" width="75.20" height="25.33" fill="white" stroke="#bfbfbf" stroke-width="1.33"/><text x="490.2 499.2 506.2 510.2 517.2 524.2 531.2 535.2" y="386.73">Python.h</text>
<rect x="629.00" y="370.73" width="165.50" height="25.33" fill="white" stroke="black" stroke-width="1.33"/><text x="639.7 648.7 657.7 664.7 674.7 685.7 694.7 701.7 711.7 718.7 725.7 729.7 736.7 739.7 746.7 753.7 757.7 761.7 768.7 775.7" y="386.73">SALOME_Container.hxx</text>
<rect x="819.00" y="370.73" width="68.50" height="25.33" fill="white" stroke="#bfbfbf" stroke-width="1.33"/><text x="829.7 836.7 843.7 846.7 853.7 857.7 864.7 868.7" y="386.73">unistd.h</text>
<rect x="911.20" y="370.73" width="73.60" height="25.33" fill="white" stroke="#bfbfbf" stroke-width="1.33"/><text x="921.9 924.9 931.9 938.9 942.9 946.9 953.9 960.9" y="386.73">iostream</text>
<rect x="1007.60" y="370.73" width="66.90" height="25.33" fill="white" stroke="#bfbfbf" stroke-width="1.33"/><text x="1018.3 1025.3 1028.3 1035.3 1042.3 1049.3 1052.3 1056.3" y="386.73">signal.h</text>
<rect x="1098.20" y="370.73" width="91.40" height="25.33" fill="white" stroke="#bfbfbf" stroke-width="1.33"/><text x="1108.9 1115.9 1122.9 1129.9 1133.9 1137.9 1144.9 1151.9 1158.9 1165.9 1169.9" y="386.73">sys/types.h</text>
<rect x="1314.30" y="363.40" width="173.60" height="40.00" fill="white" stroke="black" stroke-width="1.33"/><text x="1325.0 1334.0 1343.0 1350.0 1360.0 1371.0 1380.0 1387.0 1397.0 1404.0 1415.0 1418.0 1425.0 1432.0 1441.0 1448.0 1452.0 1459.0 1462.0 1469.0" y="379.40">SALOME_NamingService</text><text x="1360.3 1367.3 1376.3 1383.3 1390.3 1394.3 1398.3 1405.3 1412.3 1416.3 1420.3 1427.3 1434.3" y="394.07">_Abstract.hxx</text>
<rect x="1562.30" y="370.73" width="118.00" height="25.33" fill="white" stroke="black" stroke-width="1.33"/><text x="1573.0 1583.0 1587.0 1590.0 1593.0 1600.0 1607.0 1618.0 1625.0 1629.0 1636.0 1643.0 1647.0 1654.0 1661.0" y="386.73">Utils_Mutex.hxx</text>
<rect x="1704.00" y="363.40" width="196.60" height="40.00" fill="white" stroke="#bfbfbf" stroke-width="1.33"/><text x="1714.7 1724.7 1734.7 1744.7 1753.7 1762.7 1769.7 1778.7 1787.7 1797.7 1806.7 1815.7 1825.7 1832.7 1842.7 1851.7 1860.7 1870.7 1879.7" y="379.40">CORBA_SERVER_HEADER</text><text x="1747.7 1751.7 1760.7 1769.7 1776.7 1786.7 1797.7 1806.7 1813.7 1820.7 1827.7 1834.7 1841.7 1848.7 1852.7" y="394.07">(SALOME_Locker)</text>
<rect x="1925.50" y="370.73" width="64.00" height="25.33" fill="white" stroke="#bfbfbf" stroke-width="1.33"/><text x="1936.2 1943.2 1947.2 1954.2 1957.2 1960.2 1967.2 1971.2" y="386.73">stdlib.h</text>
<rect x="2013.60" y="370.73" width="97.60" height="25.33" fill="white" stroke="#bfbfbf" stroke-width="1.33"/><text x="2024.3 2031.3 2042.3 2049.3 2052.3 2056.3 2063.3 2067.3 2074.3 2081.3 2088.3 2092.3" y="386.73">omnithread.h</text>
<rect x="2135.30" y="370.73" width="47.00" height="25.33" fill="white" stroke="#bfbfbf" stroke-width="1.33"/><text x="2146.0 2157.0 2164.0" y="386.73">map</text>
<rect x="2206.00" y="370.73" width="39.00" height="25.33" fill="white" stroke="#bfbfbf" stroke-width="1.33"/><text x="2216.7 2219.7 2222.7 2229.7" y="386.73">list</text>
<rect x="2320.20" y="363.40" width="196.10" height="40.00" fill="white" stroke="#bfbfbf" stroke-width="1.33"/><text x="2330.9 2340.9 2350.9 2360.9 2369.9 2378.9 2385.9 2394.9 2403.9 2413.9 2422.9 2431.9 2441.9 2448.9 2458.9 2467.9 2476.9 2486.9 2495.9" y="379.40">CORBA_SERVER_HEADER</text><text x="2349.8 2353.8 2362.8 2371.8 2378.8 2388.8 2399.8 2408.8 2415.8 2425.8 2432.8 2443.8 2450.8 2457.8 2464.8 2471.8 2478.8 2482.8" y="394.07">(SALOME_Component)</text>
<rect x="2540.90" y="363.40" width="196.10" height="40.00" fill="white" stroke="#bfbfbf" stroke-width="1.33"/><text x="2551.6 2561.6 2571.6 2581.6 2590.6 2599.6 2606.6 2615.6 2624.6 2634.6 2643.6 2652.6 2662.6 2669.6 2679.6 2688.6 2697.6 2707.6 2716.6" y="379.40">CORBA_SERVER_HEADER</text><text x="2580.5 2584.5 2593.5 2602.5 2609.5 2619.5 2630.5 2639.5 2646.5 2655.5 2662.5 2672.5 2679.5 2686.5 2693.5" y="394.07">(SALOME_PyNode)</text>
<rect x="2761.10" y="370.73" width="149.60" height="25.33" fill="white" stroke="#bfbfbf" stroke-width="1.33"/><text x="2771.8 2778.8 2789.8 2796.8 2799.8 2809.8 2819.8 2828.8 2835.8 2839.8 2849.8 2859.8 2869.8 2878.8 2887.8 2891.8" y="386.73">omniORB4/CORBA.h</text>
<rect x="3086.50" y="363.40" width="251.10" height="40.00" fill="white" stroke="#bfbfbf" stroke-width="1.33"/><text x="3097.2 3107.2 3117.2 3127.2 3136.2 3145.2 3152.2 3162.2 3169.2 3173.2 3182.2 3192.2 3200.2 3207.2 3217.2 3226.2 3235.2 3245.2 3254.2" y="379.40">CORBA_CLIENT_HEADER</text><text x="3097.2 3101.2 3110.2 3119.2 3126.2 3136.2 3147.2 3156.2 3163.2 3172.2 3183.2 3190.2 3197.2 3204.2 3211.2 3218.2 3225.2 3232.2 3242.2 3249.2 3260.2 3263.2 3270.2 3277.2 3286.2 3293.2 3297.2 3304.2 3307.2 3314.2 3321.2" y="394.07">(SALOME_Embedded_NamingService)</text>
<rect x="710.00" y="459.83" width="54.70" height="25.33" fill="white" stroke="#bfbfbf" stroke-width="1.33"/><text x="720.7 727.7 731.7 735.7 738.7 745.7" y="475.83">string</text>
<rect x="1219.90" y="459.83" width="59.10" height="25.33" fill="white" stroke="#bfbfbf" stroke-width="1.33"/><text x="1230.6 1237.6 1244.6 1251.6 1255.6 1262.6" y="475.83">vector</text>
<rect x="1302.20" y="452.50" width="199.50" height="40.00" fill="white" stroke="#bfbfbf" stroke-width="1.33"/><text x="1312.9 1322.9 1332.9 1342.9 1351.9 1360.9 1367.9 1377.9 1384.9 1388.9 1397.9 1407.9 1415.9 1422.9 1432.9 1441.9 1450.9 1460.9 1469.9" y="468.50">CORBA_CLIENT_HEADER</text><text x="1312.9 1316.9 1325.9 1334.9 1341.9 1351.9 1362.9 1371.9 1378.9 1388.9 1395.9 1402.9 1406.9 1413.9 1416.9 1423.9 1430.9 1434.9 1445.9 1452.9 1459.9 1466.9 1473.9 1480.9 1484.9" y="483.17">(SALOME_ContainerManager)</text>
<rect x="1524.10" y="459.83" width="76.50" height="25.33" fill="white" stroke="#bfbfbf" stroke-width="1.33"/><text x="1534.8 1541.8 1545.8 1552.8 1556.8 1563.8 1570.8 1577.8 1581.8" y="475.83">pthread.h</text>
<rect x="1625.90" y="452.50" width="189.10" height="40.00" fill="white" stroke="#bfbfbf" stroke-width="1.33"/><text x="1636.6 1646.6 1656.6 1666.6 1675.6 1684.6 1691.6 1701.6 1708.6 1712.6 1721.6 1731.6 1739.6 1746.6 1756.6 1765.6 1774.6 1784.6 1793.6" y="468.50">CORBA_CLIENT_HEADER</text><text x="1651.6 1655.6 1664.6 1673.6 1680.6 1690.6 1701.6 1710.6 1717.6 1727.6 1734.6 1745.6 1752.6 1759.6 1766.6 1773.6 1780.6 1784.6" y="483.17">(SALOME_Component)</text>
<rect x="2029.40" y="459.83" width="123.00" height="25.33" fill="white" stroke="#bfbfbf" stroke-width="1.33"/><text x="2040.1 2049.1 2058.1 2065.1 2075.1 2086.1 2095.1 2102.1 2109.1 2116.1 2120.1 2123.1 2130.1 2134.1" y="475.83">SALOMEconfig.h</text>
<rect x="2429.10" y="452.50" width="173.30" height="40.00" fill="white" stroke="black" stroke-width="1.33"/><text x="2439.8 2448.8 2457.8 2464.8 2474.8 2485.8 2494.8 2501.8 2511.8 2518.8 2529.8 2532.8 2539.8 2546.8 2555.8 2562.8 2566.8 2573.8 2576.8 2583.8" y="468.50">SALOME_NamingService</text><text x="2487.1 2494.1 2501.1 2508.1 2512.1 2519.1 2523.1 2530.1 2537.1" y="483.17">_defs.hxx</text>
<rect x="2753.20" y="459.83" width="136.30" height="25.33" fill="white" stroke="black" stroke-width="1.33"/><text x="2763.9 2772.9 2781.9 2788.9 2798.9 2809.9 2818.9 2825.9 2835.9 2839.9 2842.9 2845.9 2852.9 2856.9 2863.9 2870.9" y="475.83">SALOME_Utils.hxx</text>
</g></svg></body></html>
